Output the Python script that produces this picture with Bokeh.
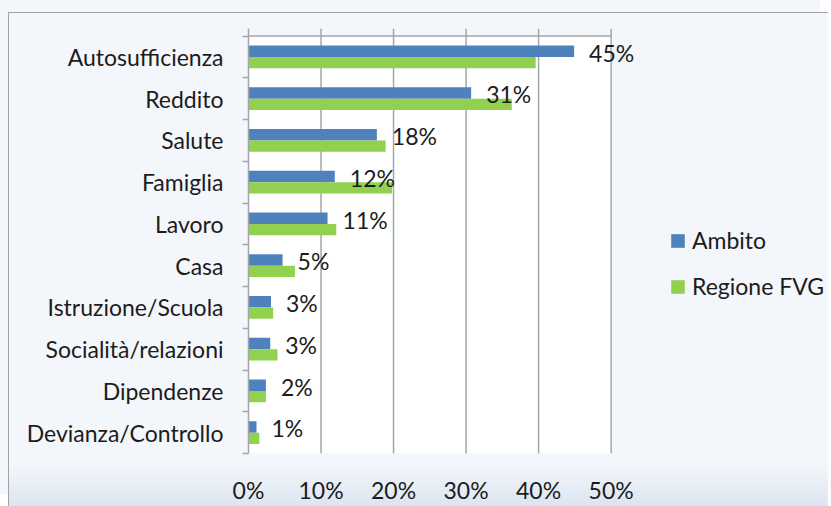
from bokeh.plotting import figure
from bokeh.models import (ColumnDataSource, Range1d, FixedTicker,
                          PrintfTickFormatter, Legend, LegendItem)
from bokeh.core.properties import value
from bokeh.embed import file_html
from bokeh.resources import INLINE

categories = ["Autosufficienza", "Reddito", "Salute", "Famiglia", "Lavoro",
              "Casa", "Istruzione/Scuola", "Socialità/relazioni", "Dipendenze",
              "Devianza/Controllo"]
ambito = [44.9, 30.7, 17.7, 11.9, 10.9, 4.7, 3.1, 3.0, 2.4, 1.1]
regione = [39.6, 36.3, 18.9, 19.8, 12.1, 6.4, 3.4, 4.0, 2.4, 1.5]
x_ticks = [0, 10, 20, 30, 40, 50]

FONT = "Lato"
FS = "23px"
TXT = "#1c1c1c"
GRID = "#a3a6a9"
BLUE = "#4F81BD"
GREEN = "#92D050"
BG = "#f3f6fa"

n = len(categories)
centers = [n - 0.5 - i for i in range(n)]
bar_h = 0.27
y_top = n + 0.18          # room above the plot area for the outward ticks
x_end = 79.7              # frame extends right to hold labels and legend

src = ColumnDataSource(dict(
    cat=categories,
    yb=[c + bar_h / 2 for c in centers],
    yg=[c - bar_h / 2 for c in centers],
    ylab=[c + 0.1 for c in centers],
    ambito=ambito,
    regione=regione,
    lab=[f"{round(v)}%" for v in ambito],
))

p = figure(output_backend="svg", toolbar_location=None,
           frame_width=578, frame_height=425,
           min_border_left=239, min_border_right=2,
           min_border_top=15, min_border_bottom=53,
           x_range=Range1d(0, x_end), y_range=Range1d(0, y_top),
           background_fill_alpha=0, border_fill_alpha=0,
           outline_line_color=None)
p.margin = (12, 0, 0, 8)
p.styles = {
    "border-top": "1px solid #9ea3a8",
    "border-left": "1px solid #9ea3a8",
    "background": f"linear-gradient(to bottom, {BG} 0%, {BG} 92%, #dbe5f0 100%)",
    "box-shadow": f"-8px -12px 0 0 {BG}",
}

# white plot area
p.quad(left=x_ticks[0], right=x_ticks[-1], bottom=0, top=n,
       fill_color="white", line_color=None)
# vertical gridlines (continue above the plot area as tick marks)
p.segment(x0=x_ticks[1:], x1=x_ticks[1:], y0=[0] * 5, y1=[y_top] * 5,
          line_color=GRID, line_width=1.5)
# top axis line
p.segment(x0=[x_ticks[0]], x1=[x_ticks[-1]], y0=[n], y1=[n],
          line_color=GRID, line_width=1.5)

rb = p.hbar(y="yb", right="ambito", left=0, height=bar_h, source=src,
            fill_color=BLUE, line_color=None)
rg = p.hbar(y="yg", right="regione", left=0, height=bar_h, source=src,
            fill_color=GREEN, line_color=None)

p.text(x="ambito", y="ylab", text="lab", source=src, x_offset=15,
       text_align="left", text_baseline="middle",
       text_font=value(FONT), text_font_size=FS, text_color=TXT)

p.xgrid.visible = False
p.ygrid.visible = False

# bottom axis: labels only
xa = p.xaxis[0]
xa.ticker = FixedTicker(ticks=x_ticks)
xa.formatter = PrintfTickFormatter(format="%d%%")
xa.axis_line_color = None
xa.major_tick_out = 0
xa.major_tick_in = 0
xa.minor_tick_out = 0
xa.minor_tick_in = 0
xa.major_label_standoff = 22
xa.major_label_text_font = FONT
xa.major_label_text_font_size = FS
xa.major_label_text_color = TXT

# left category axis
ya = p.yaxis[0]
ya.ticker = FixedTicker(ticks=centers, minor_ticks=list(range(n + 1)))
ya.major_label_overrides = {c: lab for c, lab in zip(centers, categories)}
ya.axis_line_color = GRID
ya.axis_line_width = 1.5
ya.major_tick_out = 0
ya.major_tick_in = 0
ya.minor_tick_out = 6
ya.minor_tick_in = 0
ya.minor_tick_line_color = GRID
ya.minor_tick_line_width = 1.5
ya.major_label_standoff = 19
ya.major_label_text_font = FONT
ya.major_label_text_font_size = FS
ya.major_label_text_color = TXT

legend = Legend(items=[LegendItem(label="Ambito", renderers=[rb]),
                       LegendItem(label="Regione FVG", renderers=[rg])],
                location=(421, 153), orientation="vertical",
                glyph_width=17, glyph_height=17, label_standoff=6,
                spacing=18, padding=0, margin=0,
                background_fill_alpha=0, border_line_color=None,
                label_text_font=FONT, label_text_font_size=FS,
                label_text_color=TXT)
p.add_layout(legend, "center")

open("out.html", "w").write(file_html(p, INLINE))
